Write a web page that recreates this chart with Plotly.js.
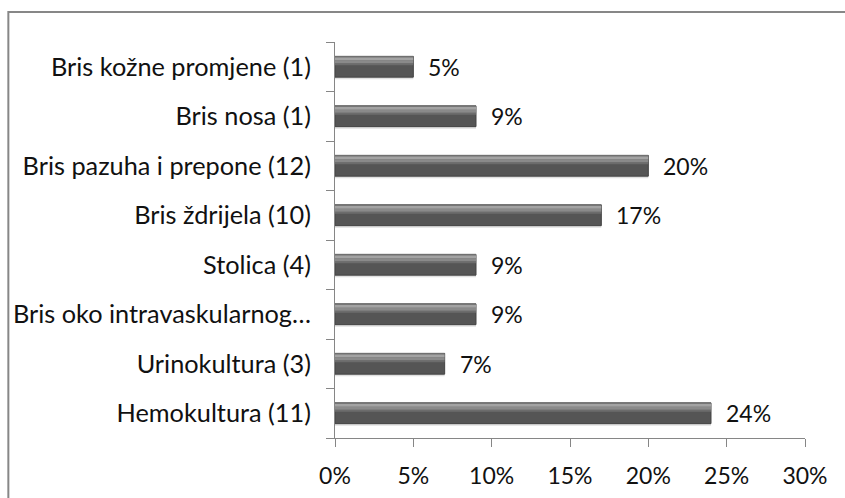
<!DOCTYPE html>
<html>
<head>
<meta charset="utf-8">
<script src="https://cdn.plot.ly/plotly-3.0.1.min.js"></script>
<style>html,body{margin:0;padding:0;background:#fff;}#chart{width:845px;height:498px;}</style>
</head>
<body>
<div id="chart"></div>
<script>
const categories = [
  "Hemokultura (11)",
  "Urinokultura (3)",
  "Bris oko intravaskularnog…",
  "Stolica (4)",
  "Bris ždrijela (10)",
  "Bris pazuha i prepone (12)",
  "Bris nosa (1)",
  "Bris kožne promjene (1)"
];
const values = [24, 7, 9, 9, 17, 20, 9, 5];
const tickVals = [0, 5, 10, 15, 20, 25, 30];
const tickText = ["0%", "5%", "10%", "15%", "20%", "25%", "30%"];

const FONT = "Lato, 'Open Sans', sans-serif";

function barTrace(offset, width, color, line) {
  return {
    type: "bar", orientation: "h", x: values, y: categories,
    width: width, offset: offset,
    marker: {color: color, line: line || {width: 0}},
    hoverinfo: "skip", showlegend: false
  };
}

// visual gradient bands (styling only)
const traces = [
  barTrace(-0.25, 0.44, "#e0e0e0"),
  barTrace(-0.21, 0.42, "#555555", {color: "#444444", width: 1}),
  barTrace(0.03, 0.04, "#6c6c6c"),
  barTrace(0.07, 0.06, "#8a8a8a"),
  barTrace(0.13, 0.06, "#a3a3a3"),
  barTrace(0.19, 0.02, "#7c7c7c")
];

const annotations = categories.map((c, i) => ({
  x: values[i], y: c, xref: "x", yref: "y",
  text: values[i] + "%", showarrow: false,
  xanchor: "left", yanchor: "middle", xshift: 13,
  font: {family: FONT, size: 23, color: "#111"}
}));

const layout = {
  width: 845, height: 498,
  margin: {l: 335, r: 40, t: 42, b: 60},
  paper_bgcolor: "#fff", plot_bgcolor: "#fff",
  barmode: "overlay",
  font: {family: FONT, size: 23, color: "#111"},
  xaxis: {
    range: [0, 30], tickvals: tickVals, ticktext: tickText,
    showgrid: false, zeroline: false,
    showline: true, linecolor: "#868686", linewidth: 1,
    ticks: "outside", ticklen: 8, tickcolor: "#868686",
    ticklabelstandoff: 9,
    tickfont: {family: FONT, size: 23, color: "#111"},
    fixedrange: true
  },
  yaxis: {
    type: "category", categoryorder: "array", categoryarray: categories,
    range: [-0.5, 7.5],
    showgrid: false, zeroline: false,
    showline: true, linecolor: "#868686", linewidth: 1,
    ticks: "outside", ticklen: 8, tickcolor: "#868686",
    tickson: "boundaries",
    ticklabelstandoff: 18,
    tickfont: {family: FONT, size: 25.3, color: "#111"},
    fixedrange: true
  },
  annotations: annotations,
  shapes: [{
    type: "rect", xref: "paper", yref: "paper",
    x0: -0.695, x1: 1.1, y0: -0.16, y1: 1.0758,
    line: {color: "#878787", width: 2}, fillcolor: "rgba(0,0,0,0)", layer: "below"
  }]
};

Plotly.newPlot("chart", traces, layout, {displayModeBar: false, staticPlot: true});
</script>
</body>
</html>
